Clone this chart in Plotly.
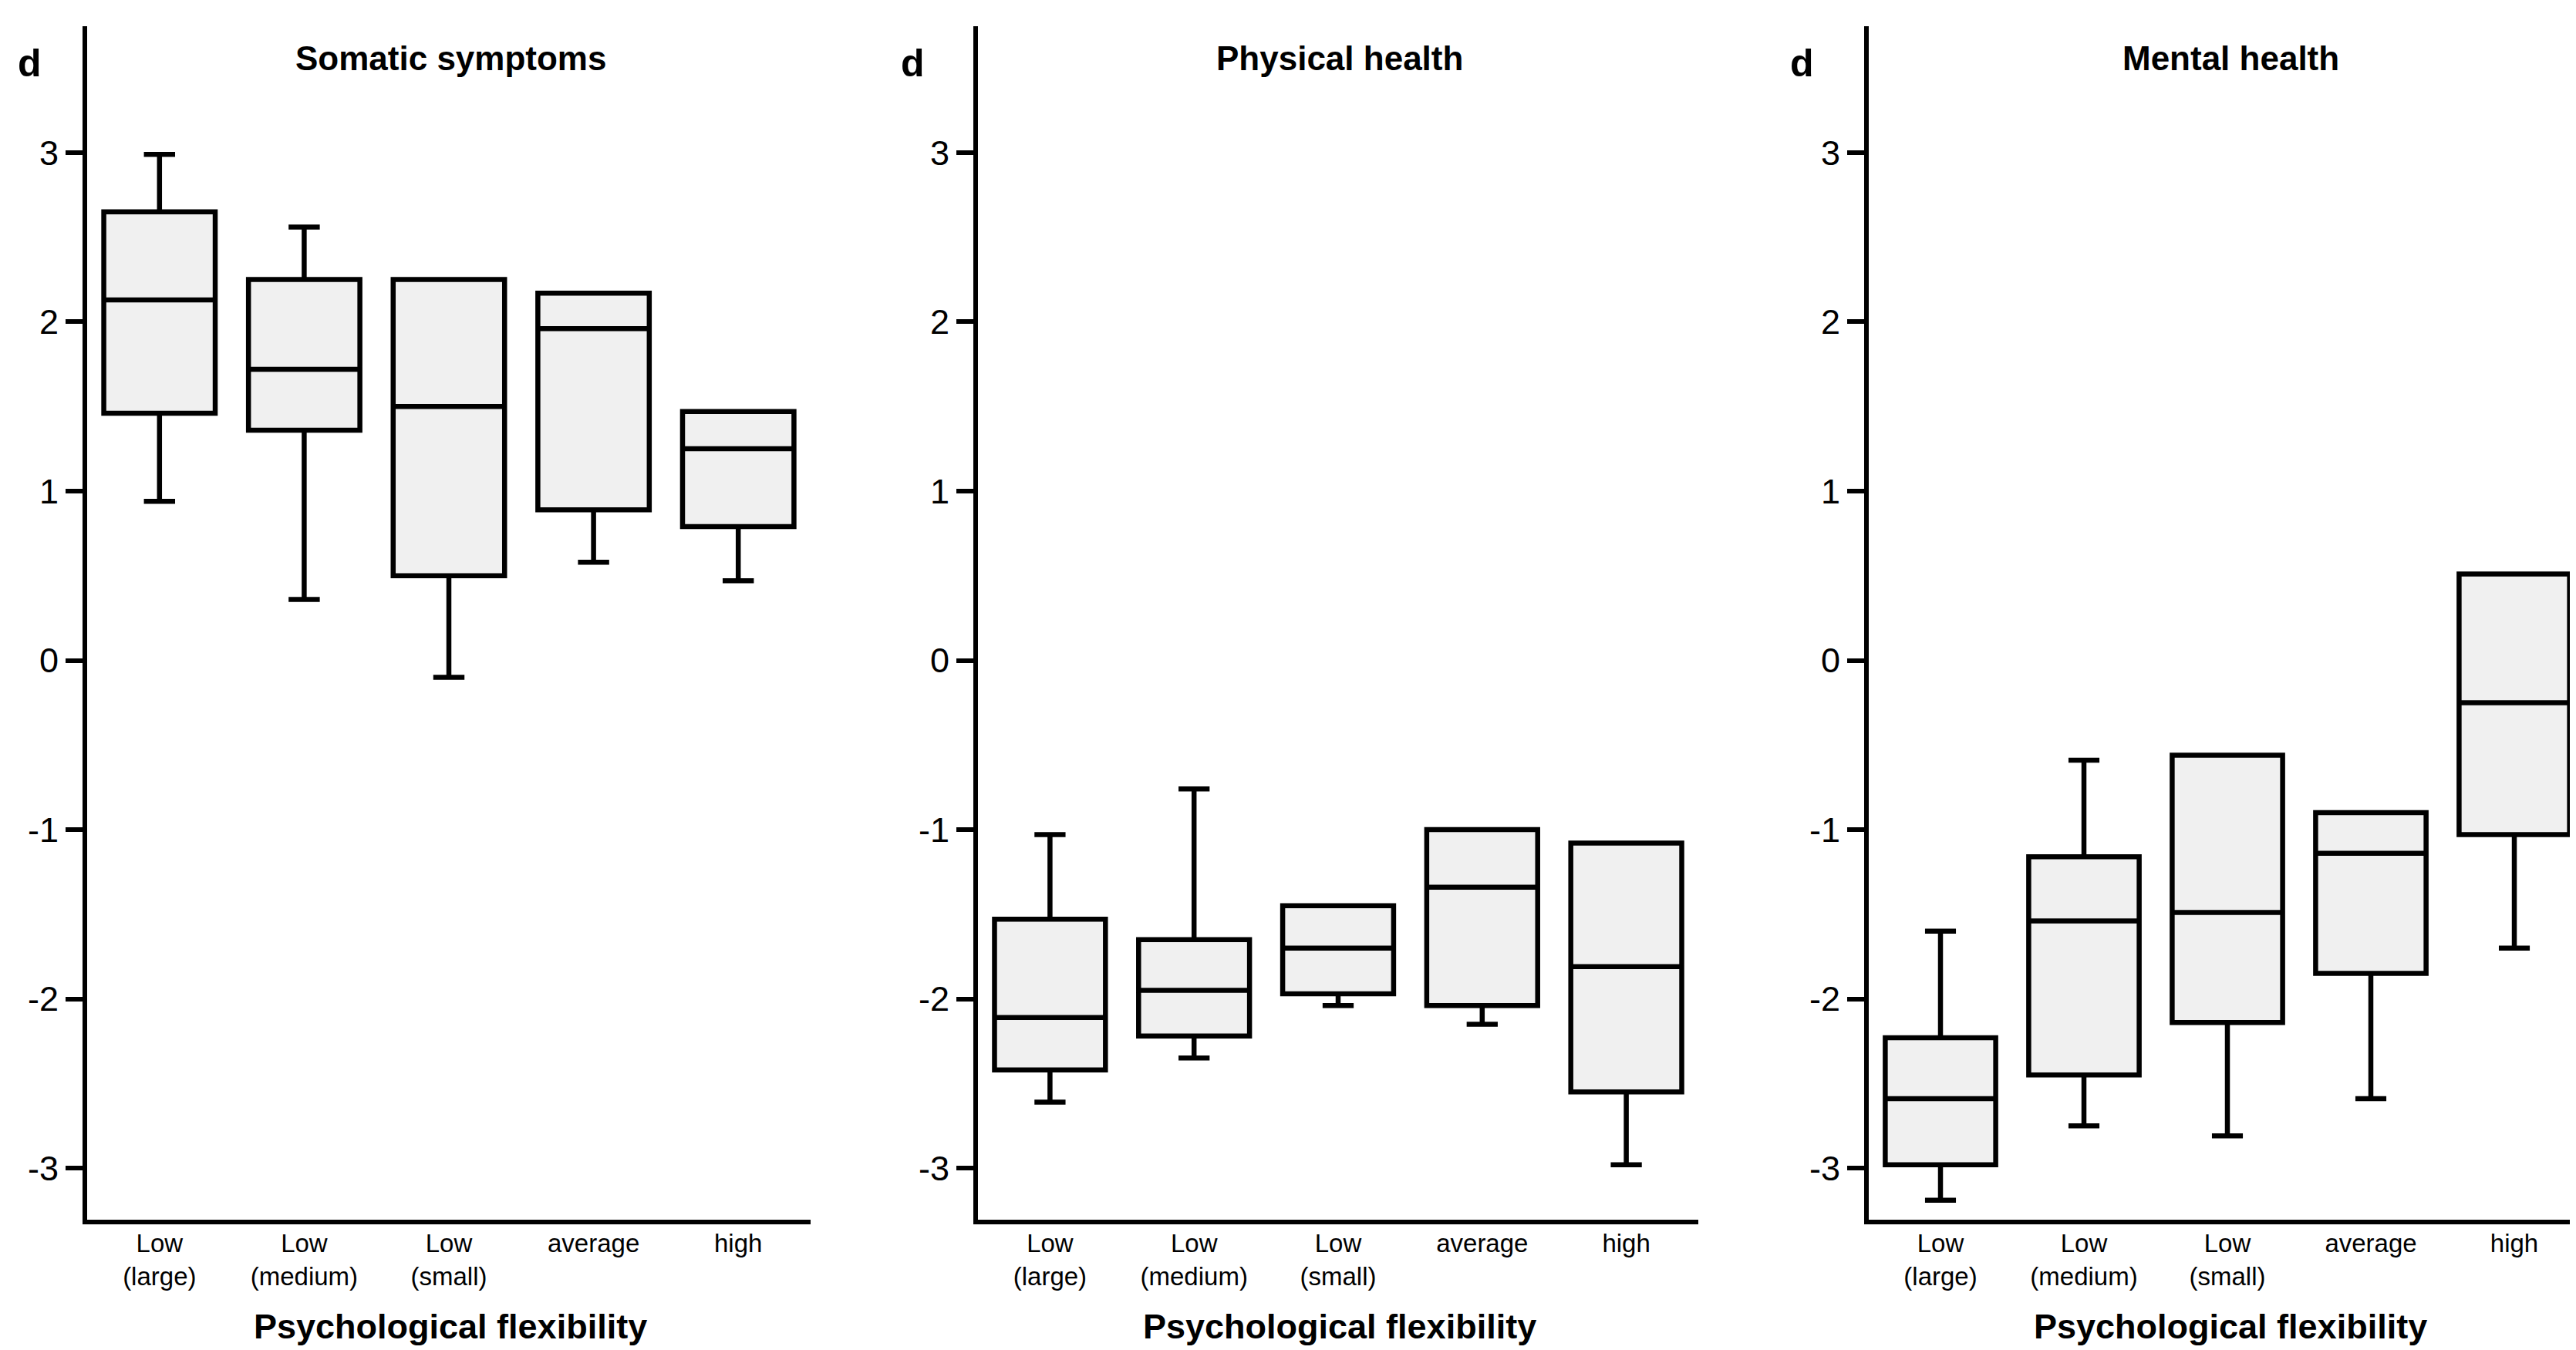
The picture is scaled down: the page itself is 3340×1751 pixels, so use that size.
import plotly.graph_objects as go

# reference canvas size; the page body adds an 8px margin, so the figure is
# drawn 8px smaller and every pixel position is shifted by that offset
REF_W, REF_H = 3340, 1751
OFF = 8
W, H = REF_W - OFF, REF_H - OFF

categories = ["Low<br>(large)", "Low<br>(medium)", "Low<br>(small)", "average", "high"]
panel_titles = ["Somatic symptoms", "Physical health", "Mental health"]
x_title = "Psychological flexibility"
y_ticks = [-3, -2, -1, 0, 1, 2, 3]

# Somatic symptoms
som_lower = [0.94, 0.36, -0.10, 0.58, 0.47]
som_q1 = [1.46, 1.36, 0.50, 0.89, 0.79]
som_median = [2.13, 1.72, 1.50, 1.96, 1.25]
som_q3 = [2.65, 2.25, 2.25, 2.17, 1.47]
som_upper = [2.99, 2.56, 2.25, 2.17, 1.47]

# Physical health
phy_lower = [-2.61, -2.35, -2.04, -2.15, -2.98]
phy_q1 = [-2.42, -2.22, -1.97, -2.04, -2.55]
phy_median = [-2.11, -1.95, -1.70, -1.34, -1.81]
phy_q3 = [-1.53, -1.65, -1.45, -1.00, -1.08]
phy_upper = [-1.03, -0.76, -1.45, -1.00, -1.08]

# Mental health
men_lower = [-3.19, -2.75, -2.81, -2.59, -1.70]
men_q1 = [-2.98, -2.45, -2.14, -1.85, -1.03]
men_median = [-2.59, -1.54, -1.49, -1.14, -0.25]
men_q3 = [-2.23, -1.16, -0.56, -0.90, 0.51]
men_upper = [-1.60, -0.59, -0.56, -0.90, 0.51]

panels = [
    (som_lower, som_q1, som_median, som_q3, som_upper),
    (phy_lower, phy_q1, phy_median, phy_q3, phy_upper),
    (men_lower, men_q1, men_median, men_q3, men_upper),
]

# layout (pixel geometry in reference coordinates)
x_left = [113, 1268, 2423]
x_right = [1051, 2202, 3340]
x_ranges = [[-0.5, 4.5], [-0.5, 4.5], [-0.5, 4.43]]
title_cx = [584, 1737, 2892]
d_cx = [39, 1183, 2336]
y_top, y_bot = 34, 1582
y_range = [-3.305, 3.747]


def px(x):
    return (x - OFF) / W


def py(y):
    return 1 - (y - OFF) / H


FONT = "Arial, Liberation Sans, sans-serif"

fig = go.Figure()
for i, (lo, q1, med, q3, up) in enumerate(panels):
    xa = "x" if i == 0 else f"x{i+1}"
    ya = "y" if i == 0 else f"y{i+1}"
    fig.add_trace(go.Box(
        x=categories, lowerfence=lo, q1=q1, median=med, q3=q3, upperfence=up,
        xaxis=xa, yaxis=ya, width=0.77, whiskerwidth=0.28,
        fillcolor="#f0f0f0", line=dict(color="black", width=6.5),
        boxpoints=False, showlegend=False, hoverinfo="skip",
    ))

layout = dict(
    width=W, height=H, margin=dict(l=0, r=0, t=0, b=0),
    paper_bgcolor="white", plot_bgcolor="white",
    font=dict(family=FONT, color="black"),
    showlegend=False,
)
annotations = []
for i in range(3):
    sfx = "" if i == 0 else str(i + 1)
    layout[f"xaxis{sfx}"] = dict(
        domain=[px(x_left[i]), min(1.0, px(x_right[i]))], range=x_ranges[i],
        type="category", categoryorder="array", categoryarray=categories,
        showline=True, linecolor="black", linewidth=6, ticks="",
        showgrid=False, zeroline=False, ticklabelstandoff=-4,
        tickfont=dict(size=33, family=FONT, color="black"),
        anchor="y" + sfx,
    )
    layout[f"yaxis{sfx}"] = dict(
        domain=[py(y_bot), py(y_top)], range=y_range,
        tickvals=y_ticks, ticktext=[str(v) for v in y_ticks],
        showline=True, linecolor="black", linewidth=6,
        ticks="outside", ticklen=22, tickwidth=6, tickcolor="black",
        showgrid=False, zeroline=False,
        tickfont=dict(size=45, family=FONT, color="black"),
        anchor="x" + sfx,
    )
    annotations.append(dict(
        text=f"<b>{panel_titles[i]}</b>", x=px(title_cx[i]), y=py(76),
        xref="paper", yref="paper", xanchor="center", yanchor="middle",
        showarrow=False, font=dict(size=44, family=FONT, color="black"),
    ))
    annotations.append(dict(
        text="<b>d</b>", x=px(d_cx[i]), y=py(82),
        xref="paper", yref="paper", xanchor="center", yanchor="middle",
        showarrow=False, font=dict(size=50, family=FONT, color="black"),
    ))
    annotations.append(dict(
        text=f"<b>{x_title}</b>", x=px(title_cx[i]), y=py(1720),
        xref="paper", yref="paper", xanchor="center", yanchor="middle",
        showarrow=False, font=dict(size=45, family=FONT, color="black"),
    ))
layout["annotations"] = annotations
fig.update_layout(**layout)

fig.write_html("out.html")
